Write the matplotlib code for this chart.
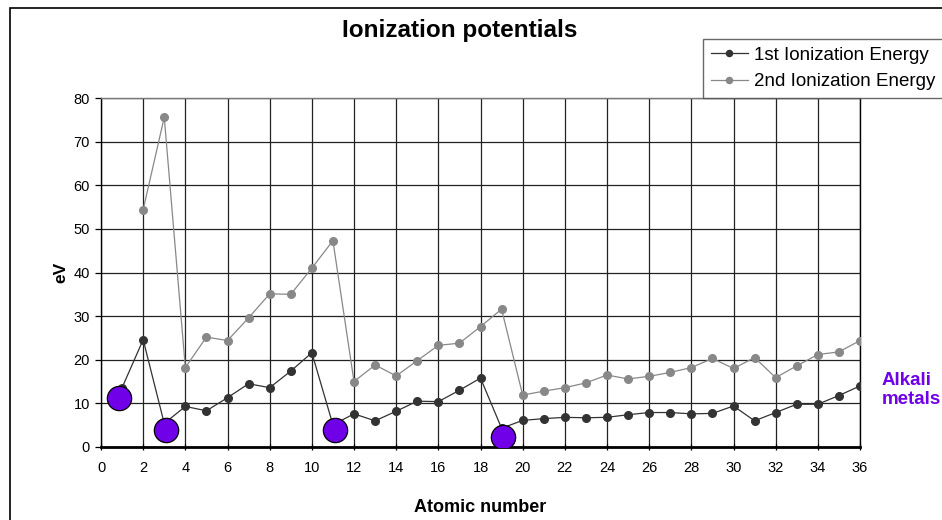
import matplotlib.pyplot as plt
from matplotlib.patches import Rectangle

plt.rcParams['font.family'] = ['Liberation Sans', 'DejaVu Sans']

# atomic numbers and ionization energies (eV)
z_first = list(range(1, 37))
first_ie = [13.6, 24.6, 5.4, 9.3, 8.3, 11.3, 14.5, 13.6, 17.4, 21.6,
            5.1, 7.6, 6.0, 8.2, 10.5, 10.4, 13.0, 15.8, 4.3, 6.1,
            6.5, 6.8, 6.7, 6.8, 7.4, 7.9, 7.9, 7.6, 7.7, 9.4,
            6.0, 7.9, 9.8, 9.8, 11.8, 14.0]
z_second = list(range(2, 37))
second_ie = [54.4, 75.6, 18.2, 25.2, 24.4, 29.6, 35.1, 35.0, 41.0,
             47.3, 15.0, 18.8, 16.3, 19.8, 23.3, 23.8, 27.6, 31.6, 11.9,
             12.8, 13.6, 14.7, 16.5, 15.6, 16.2, 17.1, 18.2, 20.3, 18.0,
             20.5, 15.9, 18.6, 21.2, 21.8, 24.4]

# highlighted alkali metals (drawn as big purple dots)
alkali_x = [0.85, 3.1, 11.1, 19.05]
alkali_y = [11.3, 4.0, 4.0, 2.3]

purple = '#6f00e8'

fig = plt.figure(figsize=(9.42, 5.2), dpi=100)
ax = fig.add_axes([101 / 942, 1 - 447 / 520, 759 / 942, 349 / 520])

ax.plot(z_first, first_ie, color='#333333', lw=0.9, marker='o', ms=5.5,
        label='1st Ionization Energy', zorder=4)
ax.plot(z_second, second_ie, color='#888888', lw=0.9, marker='o', ms=5.5,
        label='2nd Ionization Energy', zorder=3)
ax.plot(alkali_x, alkali_y, ls='none', marker='o', ms=17.5, color=purple,
        markeredgecolor='black', markeredgewidth=0.9, zorder=5)

ax.set_xlim(0, 36)
ax.set_ylim(0, 80)
ax.set_xticks(range(0, 37, 2))
ax.set_yticks(range(0, 81, 10))
ax.grid(True, color='#222222', lw=0.9)
ax.set_axisbelow(True)
ax.tick_params(axis='both', labelsize=10.5, length=4, width=0.9, color='black')
ax.tick_params(axis='x', direction='inout', pad=8)
ax.tick_params(axis='y', direction='out', pad=4)
for s in ['left', 'right', 'top']:
    ax.spines[s].set_linewidth(1.0)
ax.spines['top'].set_color('#777777')
ax.spines['bottom'].set_linewidth(2.0)

ax.set_xlabel('Atomic number', fontsize=13, fontweight='bold', labelpad=17)
ax.set_ylabel('eV', fontsize=12.5, fontweight='bold', labelpad=4)

fig.text(460 / 942, 1 - 30 / 520, 'Ionization potentials', fontsize=17.5,
         fontweight='bold', ha='center', va='center')
fig.text(882 / 942, 1 - 390 / 520, 'Alkali\nmetals', fontsize=13.5,
         fontweight='bold', color=purple, ha='left', va='center',
         linespacing=1.15)

leg = fig.legend(loc='lower left',
                 bbox_to_anchor=(703 / 942, 1 - 98 / 520, 260 / 942, 62 / 520),
                 mode='expand', fontsize=13.5, frameon=True, fancybox=False,
                 handlelength=2.0, handletextpad=0.3, borderpad=0.4,
                 labelspacing=0.5, borderaxespad=0, markerscale=0.8)
leg.get_frame().set_edgecolor('#444444')
leg.get_frame().set_linewidth(1.0)

# outer chart frame
fig.patches.append(Rectangle((10 / 942, -0.1), 1.2, 1.1 - 8 / 520,
                             transform=fig.transFigure, fill=False,
                             edgecolor='black', lw=1.2, zorder=0))

fig.savefig('out.png', dpi=100)
